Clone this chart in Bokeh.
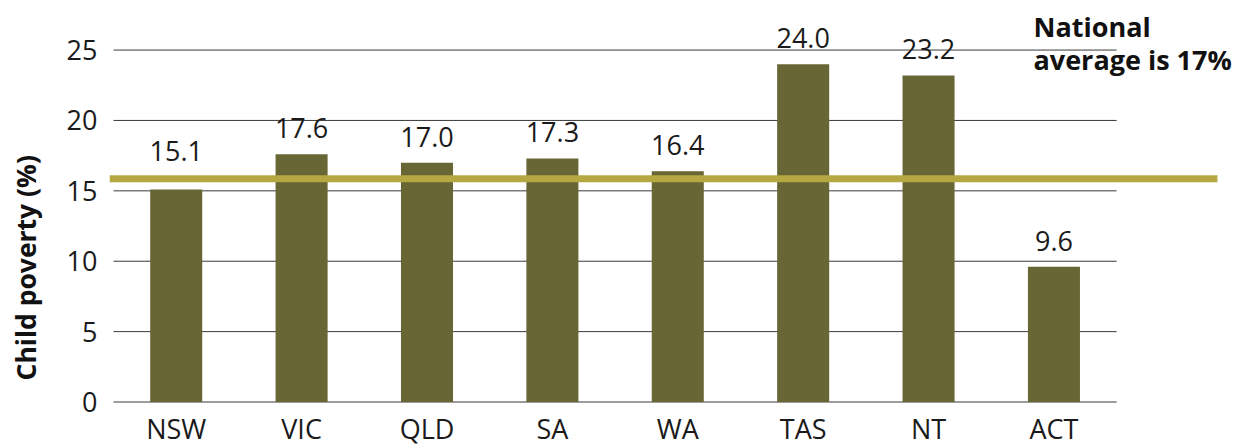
from bokeh.plotting import figure
from bokeh.models import FixedTicker, Label, ColumnDataSource, Title
from bokeh.core.properties import value
from bokeh.embed import file_html
from bokeh.resources import INLINE

# ---- data ----
states = ["NSW", "VIC", "QLD", "SA", "WA", "TAS", "NT", "ACT"]
child_poverty = [15.1, 17.6, 17.0, 17.3, 16.4, 24.0, 23.2, 9.6]
national_line_value = 15.85
y_ticks = [0, 5, 10, 15, 20, 25]
y_label = "Child poverty (%)"
note_lines = ["National", "average is 17%"]

FONT = "Open Sans"
BAR = "#686634"
LINE = "#B5A843"
TXT = "#1a1a1a"

xs = list(range(len(states)))
labels = [f"{v:.1f}" for v in child_poverty]
offsets = [-26] * len(states)
offsets[0] = -38  # NSW label sits above the average line

src = ColumnDataSource(dict(x=xs, top=child_poverty, label=labels, off=offsets,
                            cat=states, base=[0] * len(states)))

X0, X1 = -0.532, 8.44
p = figure(width=1234, height=446, output_backend="svg", toolbar_location=None, title=None,
           x_range=(X0, X1), y_range=(-3.16, 28.52),
           min_border_left=109, min_border_right=0, min_border_top=0, min_border_bottom=0)
p.outline_line_color = None
p.xgrid.visible = False
p.ygrid.visible = False

# gridlines limited to the category area
gx0 = [-0.5] * len(y_ticks)
gx1 = [len(states) - 0.5] * len(y_ticks)
p.segment(x0=gx0, x1=gx1, y0=y_ticks, y1=y_ticks, line_color="#3a3a3a", line_width=1)

p.vbar(x="x", top="top", width=0.415, bottom=0, source=src, fill_color=BAR, line_color=None)

p.text(x="x", y="top", text="label", y_offset="off", source=src,
       text_align="center", text_baseline="alphabetic",
       text_font=value(FONT), text_font_size="27px", text_color=TXT)

# category labels under the baseline
p.text(x="x", y="base", text="cat", y_offset=26, source=src,
       text_align="center", text_baseline="alphabetic",
       text_font=value(FONT), text_font_size="27px", text_color=TXT)

# national average line (runs past the last category, as in the original)
p.segment(x0=[X0], x1=[8.304], y0=[national_line_value], y1=[national_line_value],
          line_color=LINE, line_width=7, line_cap="butt")

# axes
p.xaxis.visible = False
ax = p.yaxis
ax.axis_line_color = None
ax.major_tick_line_color = None
ax.minor_tick_line_color = None
ax.major_tick_out = 0
ax.major_tick_in = 0
ax.minor_tick_out = 0
ax.minor_tick_in = 0
ax.major_label_text_font = FONT
ax.major_label_text_color = TXT
ax.ticker = FixedTicker(ticks=y_ticks)
ax.major_label_text_font_size = "27px"
ax.major_label_standoff = 12
# invisible spacer between tick labels and the rotated title
ax.axis_label = "."
ax.axis_label_text_font_size = "4px"
ax.axis_label_text_alpha = 0
ax.axis_label_standoff = 14

p.add_layout(Title(text=y_label, align="left", offset=66, standoff=0,
                   text_font=FONT, text_font_size="26.5px", text_font_style="bold",
                   text_color="#111111"), "left")

p.add_layout(Label(x=6.837, y=26.67, text=note_lines[0], text_align="left",
                   text_baseline="alphabetic", text_font=FONT, text_font_size="27px",
                   text_font_style="bold", text_color="#111111"))
p.add_layout(Label(x=6.837, y=24.32, text=note_lines[1], text_align="left",
                   text_baseline="alphabetic", text_font=FONT, text_font_size="27px",
                   text_font_style="bold", text_color="#111111"))

open("out.html", "w").write(file_html(p, INLINE))
